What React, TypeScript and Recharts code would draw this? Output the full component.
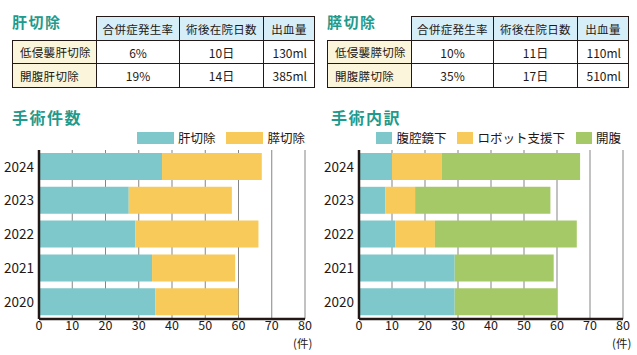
import { BarChart, Bar, XAxis, YAxis, CartesianGrid } from 'recharts'

const years = ['2024', '2023', '2022', '2021', '2020']
const liverCases = [37, 27, 29, 34, 35]
const pancreasCases = [30, 31, 37, 25, 25]
const laparoscopic = [10, 8, 11, 29, 29]
const robotic = [15, 9, 12, 0, 0]
const openSurgery = [42, 41, 43, 30, 31]
const xTicks = [0, 10, 20, 30, 40, 50, 60, 70, 80]

const tableHeaders = ['合併症発生率', '術後在院日数', '出血量']
const liverRows = [
  { label: '低侵襲肝切除', values: ['6%', '10日', '130ml'] },
  { label: '開腹肝切除', values: ['19%', '14日', '385ml'] },
]
const pancreasRows = [
  { label: '低侵襲膵切除', values: ['10%', '11日', '110ml'] },
  { label: '開腹膵切除', values: ['35%', '17日', '510ml'] },
]

const FONT = '"Noto Sans CJK JP", "Noto Sans", sans-serif'
const INK = '#231815'
const TITLE = '#1f9a8c'
const TEAL = '#7ec7cb'
const YELLOW = '#f7ca59'
const GREEN = '#a6c968'

const countData = years.map((y, i) => ({ year: y, liver: liverCases[i], pancreas: pancreasCases[i] }))
const methodData = years.map((y, i) => ({
  year: y,
  lap: laparoscopic[i],
  robot: robotic[i],
  open: openSurgery[i],
}))

function Title({ text, left, top, size }: { text: string; left: number; top: number; size: number }) {
  return (
    <div
      style={{
        position: 'absolute',
        left,
        top,
        fontSize: size,
        lineHeight: `${size}px`,
        fontWeight: 700,
        color: TITLE,
        letterSpacing: 1.5,
        whiteSpace: 'nowrap',
      }}
    >
      {text}
    </div>
  )
}

function ResultTable({
  left,
  widths,
  rows,
}: {
  left: number
  widths: number[]
  rows: { label: string; values: string[] }[]
}) {
  const border = `1px solid ${INK}`
  const rowHeights = [24, 23, 24]
  return (
    <table
      style={{
        position: 'absolute',
        left,
        top: 16,
        borderCollapse: 'collapse',
        tableLayout: 'fixed',
        width: widths.reduce((a, b) => a + b, 0),
        fontSize: 11.5,
        color: INK,
      }}
    >
      <colgroup>
        {widths.map((w, i) => (
          <col key={i} style={{ width: w }} />
        ))}
      </colgroup>
      <tbody>
        <tr style={{ height: rowHeights[0] }}>
          <td style={{ border: 'none', padding: 0 }} />
          {tableHeaders.map((h) => (
            <td key={h} style={{ border, background: '#d6eef8', textAlign: 'center', padding: 0, letterSpacing: 0.3 }}>
              {h}
            </td>
          ))}
        </tr>
        {rows.map((r, ri) => (
          <tr key={r.label} style={{ height: rowHeights[ri + 1] }}>
            <td style={{ border, background: '#fbf6db', paddingLeft: 7, letterSpacing: 0.3 }}>{r.label}</td>
            {r.values.map((v, vi) => (
              <td
                key={vi}
                style={{
                  border,
                  padding: 0,
                  fontSize: 12,
                  textAlign: vi === 2 ? 'right' : 'center',
                  paddingRight: vi === 2 ? 7 : 0,
                }}
              >
                {v}
              </td>
            ))}
          </tr>
        ))}
      </tbody>
    </table>
  )
}

function LegendRow({
  right,
  items,
  swatchWidth,
}: {
  right: number
  items: { name: string; color: string }[]
  swatchWidth: number
}) {
  return (
    <div
      style={{
        position: 'absolute',
        right,
        top: 130,
        display: 'flex',
        alignItems: 'center',
        gap: 11,
        fontSize: 12.5,
        lineHeight: '16px',
        color: INK,
        whiteSpace: 'nowrap',
      }}
    >
      {items.map((it) => (
        <div key={it.name} style={{ display: 'flex', alignItems: 'center', gap: 4 }}>
          <div style={{ width: swatchWidth, height: 12.5, background: it.color }} />
          <span>{it.name}</span>
        </div>
      ))}
    </div>
  )
}

function StackedChart({
  left,
  width,
  yWidth,
  rightMargin,
  data,
  series,
}: {
  left: number
  width: number
  yWidth: number
  rightMargin: number
  data: any[]
  series: { key: string; color: string }[]
}) {
  return (
    <div style={{ position: 'absolute', left, top: 0 }}>
      <BarChart
        width={width}
        height={355}
        data={data}
        layout="vertical"
        margin={{ top: 150, right: rightMargin, bottom: 16, left: 0 }}
      >
        <CartesianGrid horizontal={false} stroke="#858585" strokeWidth={1} />
        <XAxis
          type="number"
          domain={[0, 80]}
          ticks={xTicks}
          interval={0}
          height={20}
          tickLine={false}
          tickSize={0}
          tickMargin={2}
          axisLine={{ stroke: INK, strokeWidth: 2.5 }}
          tick={{ fill: INK, fontSize: 12.5, fontFamily: FONT }}
        />
        <YAxis
          type="category"
          dataKey="year"
          width={yWidth}
          tickLine={false}
          tickSize={0}
          tickMargin={5}
          axisLine={{ stroke: INK, strokeWidth: 2.5 }}
          tick={{ fill: INK, fontSize: 13.5, fontFamily: FONT }}
        />
        {series.map((s) => (
          <Bar key={s.key} dataKey={s.key} stackId="a" fill={s.color} barSize={27} isAnimationActive={false} />
        ))}
      </BarChart>
    </div>
  )
}

function UnitLabel({ left }: { left: number }) {
  return (
    <div style={{ position: 'absolute', left, top: 337, fontSize: 11.5, lineHeight: '12px', color: INK }}>
      (件)
    </div>
  )
}

export default function App() {
  return (
    <div
      style={{
        position: 'absolute',
        left: 0,
        top: 0,
        width: 637,
        height: 355,
        background: '#fff',
        fontFamily: FONT,
        overflow: 'hidden',
      }}
    >
      <Title text="肝切除" left={12} top={14} size={15} />
      <Title text="膵切除" left={327} top={14} size={15} />
      <ResultTable left={12} widths={[84, 83, 84, 51]} rows={liverRows} />
      <ResultTable left={327} widths={[84, 82, 84, 51]} rows={pancreasRows} />

      <Title text="手術件数" left={12} top={109} size={16} />
      <Title text="手術内訳" left={331} top={109} size={16} />

      <LegendRow
        right={637 - 305}
        swatchWidth={37}
        items={[
          { name: '肝切除', color: TEAL },
          { name: '膵切除', color: YELLOW },
        ]}
      />
      <LegendRow
        right={637 - 621}
        swatchWidth={16}
        items={[
          { name: '腹腔鏡下', color: TEAL },
          { name: 'ロボット支援下', color: YELLOW },
          { name: '開腹', color: GREEN },
        ]}
      />

      <StackedChart
        left={0}
        width={320}
        yWidth={39}
        rightMargin={15}
        data={countData}
        series={[
          { key: 'liver', color: TEAL },
          { key: 'pancreas', color: YELLOW },
        ]}
      />
      <StackedChart
        left={320}
        width={317}
        yWidth={39}
        rightMargin={14}
        data={methodData}
        series={[
          { key: 'lap', color: TEAL },
          { key: 'robot', color: YELLOW },
          { key: 'open', color: GREEN },
        ]}
      />
      <UnitLabel left={293} />
      <UnitLabel left={612} />
    </div>
  )
}
